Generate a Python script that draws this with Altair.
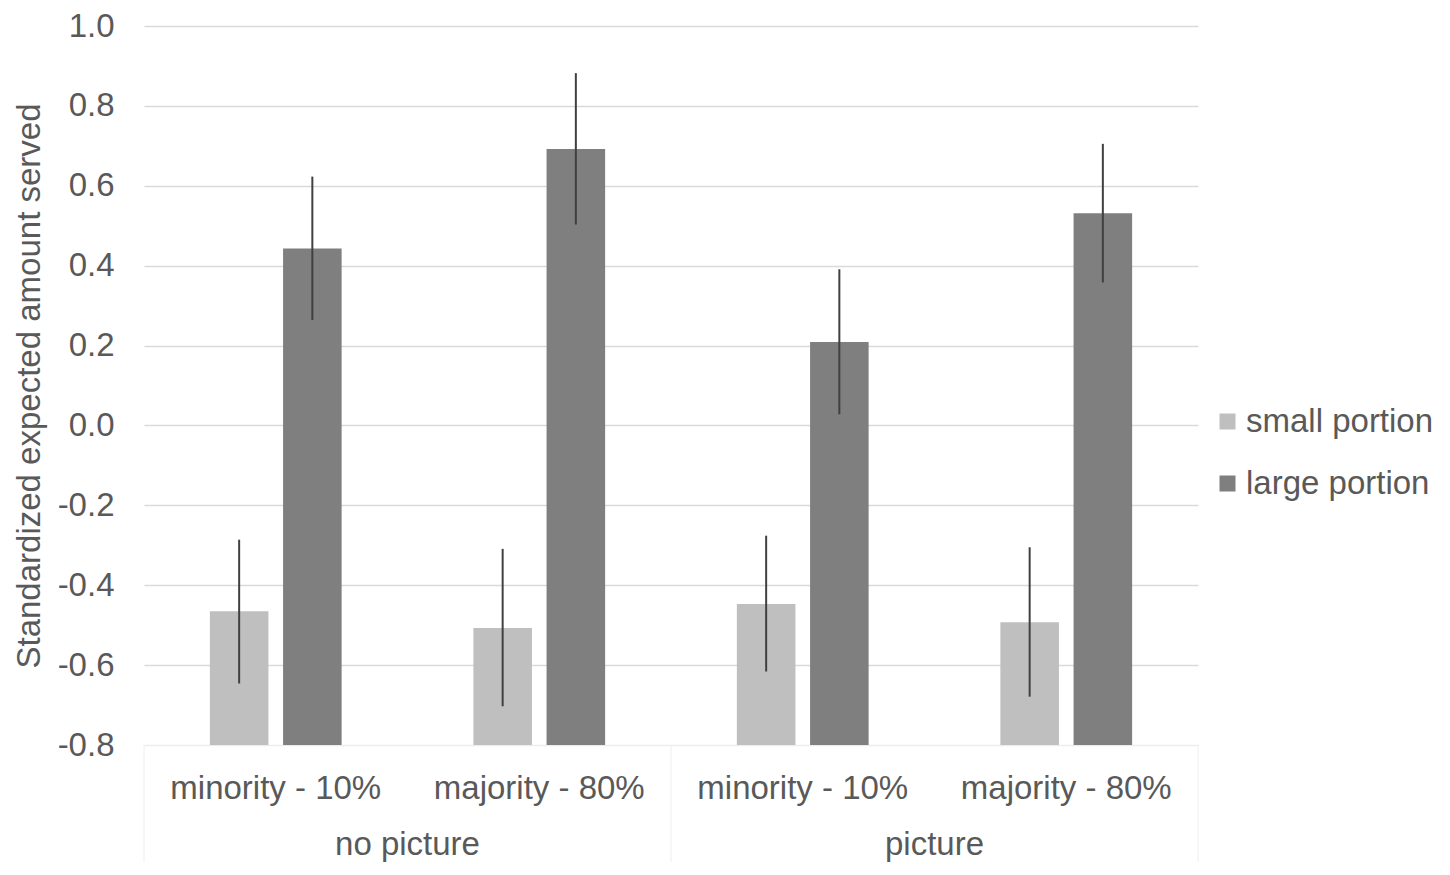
import altair as alt
import pandas as pd

groups = ["no picture", "no picture", "picture", "picture"]
conditions = ["minority - 10%", "majority - 80%", "minority - 10%", "majority - 80%"]
series_names = ["small portion", "large portion"]
small_mean = [-0.465, -0.507, -0.447, -0.493]
small_lo = [-0.646, -0.703, -0.616, -0.679]
small_hi = [-0.286, -0.309, -0.276, -0.305]
large_mean = [0.443, 0.692, 0.209, 0.531]
large_lo = [0.264, 0.503, 0.028, 0.358]
large_hi = [0.623, 0.882, 0.391, 0.705]
y_ticks = [-0.8, -0.6, -0.4, -0.2, 0.0, 0.2, 0.4, 0.6, 0.8, 1.0]
colors = ["#bfbfbf", "#7f7f7f"]
group_names = ["no picture", "picture"]

keys = [f"{g} | {c}" for g, c in zip(groups, conditions)]
rows = []
for i, k in enumerate(keys):
    rows.append({"key": k, "series": series_names[0], "mean": small_mean[i],
                 "lo": small_lo[i], "hi": small_hi[i]})
    rows.append({"key": k, "series": series_names[1], "mean": large_mean[i],
                 "lo": large_lo[i], "hi": large_hi[i]})
df = pd.DataFrame(rows)
gdf = pd.DataFrame({"group": group_names})

FONT = "Liberation Sans"
TXT = "#595959"
FS = 33
W, H = 1054, 719

x_enc = alt.X("key:N", sort=keys,
              scale=alt.Scale(paddingInner=0.5, paddingOuter=0.25),
              axis=alt.Axis(title=None, labelExpr="split(datum.label, ' | ')[1]",
                            labelFontSize=FS, labelColor=TXT, labelFont=FONT,
                            labelPadding=27, labelLimit=0, ticks=False, tickSize=0,
                            domainColor="#ececec", domainWidth=1, labelAngle=0))
xo_enc = alt.XOffset("series:N", sort=series_names, scale=alt.Scale(paddingInner=0.2))

bars = alt.Chart(df).mark_bar().encode(
    x=x_enc,
    xOffset=xo_enc,
    y=alt.Y("mean:Q", scale=alt.Scale(domain=[-0.8, 1.0], nice=False, zero=False),
            axis=alt.Axis(values=y_ticks,
                          labelExpr="(datum.value < 0 ? '-' : '') + format(abs(datum.value), '.1f')",
                          title="Standardized expected amount served",
                          titleFontSize=FS, titleFontWeight="normal", titleColor=TXT,
                          titleFont=FONT, labelFont=FONT, labelFontSize=FS,
                          labelColor=TXT, labelPadding=30, titlePadding=11,
                          labelLimit=0, domain=False, ticks=False,
                          gridColor=alt.condition("datum.value < -0.79",
                                                  alt.value("#eeeeee"),
                                                  alt.value("#d9d9d9")),
                          gridWidth=1.3)),
    y2=alt.datum(-0.8),
    color=alt.Color("series:N", sort=series_names,
                    scale=alt.Scale(domain=series_names, range=colors),
                    legend=alt.Legend(title=None, orient="none", legendX=1067, legendY=379,
                                      symbolType="square", symbolSize=256,
                                      symbolStrokeWidth=0, labelFontSize=FS,
                                      labelFont=FONT, labelColor=TXT, labelLimit=0,
                                      labelOffset=2, rowPadding=28)),
)

errs = alt.Chart(df).mark_rule(color="#404040", strokeWidth=2).encode(
    x=x_enc, xOffset=xo_enc, y="lo:Q", y2="hi:Q"
)

main = alt.layer(bars, errs)

gx = alt.X("group:N", sort=group_names,
           scale=alt.Scale(paddingInner=0, paddingOuter=0), axis=None)

glabels = alt.Chart(gdf).mark_text(fontSize=FS, font=FONT, color=TXT,
                                   baseline="middle").encode(
    x=gx, y=alt.value(H + 100), text="group:N"
)

seps_left = alt.Chart(gdf).mark_rule(color="#eeeeee", strokeWidth=1).encode(
    x=alt.X("group:N", sort=group_names, bandPosition=0,
            scale=alt.Scale(paddingInner=0, paddingOuter=0), axis=None),
    y=alt.value(H), y2=alt.value(H + 117)
)
seps_right = alt.Chart(gdf).transform_filter(
    alt.datum.group == group_names[-1]
).mark_rule(color="#eeeeee", strokeWidth=1).encode(
    x=alt.X("group:N", sort=group_names, bandPosition=1,
            scale=alt.Scale(paddingInner=0, paddingOuter=0), axis=None),
    y=alt.value(H), y2=alt.value(H + 117)
)

chart = alt.layer(main, glabels, seps_left, seps_right).resolve_scale(
    x="independent"
).properties(
    width=W, height=H, padding={"top": 2, "left": 5, "right": 5, "bottom": 5}
).configure(font=FONT).configure_view(stroke=None)

chart.save("out.html", embed_options={"renderer": "svg", "actions": False})
